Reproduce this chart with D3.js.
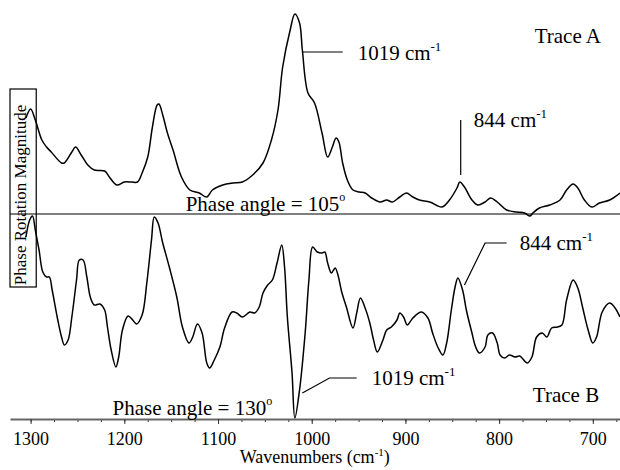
<!DOCTYPE html>
<html><head><meta charset="utf-8">
<script src="https://cdn.jsdelivr.net/npm/d3@7"></script>
<style>body{margin:0;background:#fff}svg{display:block}text{font-family:"Liberation Serif","Times New Roman",serif;fill:#000}</style>
</head><body>
<script>
// Trace A: [wavenumber, magnitude]
const traceA = [[1305,48],[1300,52.5],[1295,47],[1288,37],[1283,33.5],[1278,31],[1267,25.5],[1264,25.5],[1256,31],[1252,33.5],[1246,29.5],[1239,24.5],[1232,22],[1221,21.5],[1216,18.5],[1208,14.5],[1200,16],[1192,16],[1186,16],[1181,20.5],[1175,28.5],[1170,43.5],[1165,54.5],[1163,55],[1159,49.5],[1154,40.5],[1148,32],[1139,18.5],[1130,12],[1120,10.5],[1112,8.5],[1106,12],[1095,14.5],[1084,15.5],[1074,16],[1063,19.5],[1052,25.5],[1043,37],[1036,52],[1031,73.5],[1023,92],[1018,100],[1013,95.5],[1010,82],[1004,60.5],[997,55.5],[989,40.5],[983,28.5],[978,33.5],[974,38],[971,36],[967,25.5],[962,17],[956,12],[949,11],[943,10.5],[936,8],[927,6],[920,7],[914,6],[906,8.5],[899,10.5],[892,8.5],[885,7],[874,6],[861,3.5],[853,7],[845,13],[842,16],[837,13.5],[829,7],[823,4.5],[815,6],[809,8],[802,6],[792,2],[781,1],[773,0.5],[767,-1],[764,0.5],[757,3],[746,4.5],[735,7],[728,12],[721,15],[716,13],[709,7],[701,3.5],[693,5.5],[682,7],[671,10.5]];
// Trace B: [wavenumber, magnitude]
const traceB = [[1305,39.5],[1301,48],[1298,50],[1295,43],[1291,33],[1287,22],[1283,19.5],[1280,19.5],[1277,13],[1271,-2],[1267,-10.5],[1264,-14.5],[1260,-12],[1256,-0.5],[1251,18],[1248,28],[1244,28],[1240,19.5],[1236,9],[1232,5.5],[1226,6],[1221,3],[1218,-5.5],[1214,-17],[1209,-25.5],[1206,-20.5],[1202,-7],[1196,0],[1191,-2],[1187,-4],[1181,0.5],[1176,16.5],[1171,38],[1168,49.5],[1164,46.5],[1159,36.5],[1152,24.5],[1144,9.5],[1138,-5.5],[1131,-13.5],[1127,-10.5],[1122,-4],[1117,-8.5],[1112,-23.5],[1109,-26],[1104,-22],[1098,-15.5],[1093,-6],[1085,2],[1080,1.5],[1074,-0.5],[1066,2],[1061,1.5],[1056,4.5],[1052,11.5],[1047,15.5],[1042,18],[1037,26.5],[1032,35.5],[1029,24.5],[1026,-0.5],[1021,-28.5],[1018,-51],[1013,-37],[1007,-8.5],[1003,18],[999,34.5],[994,32],[989,31.5],[986,32],[983,26.5],[979,21.5],[975,24],[972,20.5],[968,12],[963,4.5],[956,-6],[952,1.5],[948,9],[943,4],[938,-3.5],[934,-12],[930,-18],[924,-12],[920,-7],[915,-5.5],[909,-2],[906,1.5],[902,-0.5],[898,-4.5],[892,-1],[883,2],[876,-1],[871,-8.5],[865,-16],[860,-19.5],[856,-13.5],[851,3],[847,14.5],[844,19],[839,13],[835,3],[829,-8.5],[825,-15.5],[821,-18.5],[815,-15.5],[812,-9.5],[807,-8.5],[802,-13.5],[799,-19.5],[794,-21],[789,-19.5],[783,-20.5],[778,-20],[770,-23.5],[765,-20.5],[760,-10.5],[754,-8.5],[749,-10.5],[744,-6],[738,-5.5],[733,-4.5],[728,8],[721,18],[716,14],[711,4.5],[705,-7],[700,-13.5],[696,-10.5],[690,2],[682,6.5],[677,4.5],[671,-0.5]];
const majorTicks = [1300,1200,1100,1000,900,800,700];
const minorTicks = d3.range(1300, 674, -25);
const xTitle = "Wavenumbers (cm";
const yTitle = "Phase Rotation Magnitude";
const labelsA = [{text:"Trace A", wn:762, v:85.5}];
const labelsB = [{text:"Trace B", wn:764, v:-43}];
const peakLabelsA = [{num:"1019", wn:951, v:77}, {num:"844", wn:827, v:43.5}];
const peakLabelsB = [{num:"844", wn:778, v:33}, {num:"1019", wn:936, v:-34.5}];
const leadersA = [[[1010,81],[967,81]], [[841,19.5],[841,47]]];
const leadersB = [[[837,15.5],[815,36.5],[792,36.5]], [[1010,-38.5],[981,-31],[952,-31]]];
const phaseA = {text:"Phase angle = 105", wn:1134.5, v:1.5};
const phaseB = {text:"Phase angle = 130", wn:1212.5, v:-49.5};

const SERIF = '"Liberation Serif","Times New Roman",serif';
const W = 620, H = 470;
const svg = d3.select("body").append("svg").attr("width", W).attr("height", H);
const x = d3.scaleLinear().domain([1322, 671]).range([10, 620]);
const yA = d3.scaleLinear().domain([0, 100]).range([214, 14]);
const yB = d3.scaleLinear().domain([-50, 50]).range([416, 216]);

// curves
const lineA = d3.line().x(d => x(d[0])).y(d => yA(d[1])).curve(d3.curveCatmullRom);
const lineB = d3.line().x(d => x(d[0])).y(d => yB(d[1])).curve(d3.curveCatmullRom);
svg.append("path").datum(traceA).attr("d", lineA).attr("fill","none").attr("stroke","#000").attr("stroke-width",1.5);
svg.append("path").datum(traceB).attr("d", lineB).attr("fill","none").attr("stroke","#000").attr("stroke-width",1.5);

// separator baseline for trace A
svg.append("line").attr("x1", x(1322)).attr("x2", x(671)).attr("y1", yA(0)).attr("y2", yA(0)).attr("stroke","#000").attr("stroke-width",1.2);

// y title box
const boxTop = 89, boxBot = 287;
svg.append("rect").attr("x", x(1322)).attr("y", boxTop).attr("width", x(1294)-x(1322)).attr("height", boxBot-boxTop)
  .attr("fill","none").attr("stroke","#000").attr("stroke-width",1.2);
svg.append("text").attr("transform", `translate(${x(1305)},195) rotate(-90)`).attr("text-anchor","middle")
  .style("font-family", SERIF).style("font-size","17px").text(yTitle);

// x axis
const axisY = 419;
const gMinor = svg.append("g").attr("transform", `translate(0,${axisY})`)
  .call(d3.axisBottom(x).tickValues(minorTicks).tickSize(3).tickSizeOuter(0).tickFormat(""));
gMinor.select(".domain").remove();
gMinor.selectAll("line").attr("stroke","#333");
const gMajor = svg.append("g").attr("transform", `translate(0,${axisY})`)
  .call(d3.axisBottom(x).tickValues(majorTicks).tickSize(5).tickSizeOuter(0).tickPadding(8).tickFormat(d3.format("d")));
gMajor.select(".domain").attr("stroke","#666").attr("stroke-width",2);
gMajor.selectAll(".tick line").attr("stroke","#333");
gMajor.selectAll(".tick text").style("font-size","18px").style("font-family", SERIF).attr("fill","#000");

const xt = svg.append("text").attr("x", x(1000)+3).attr("y", 463).attr("text-anchor","middle")
  .style("font-family", SERIF).style("font-size","18px");
xt.append("tspan").text(xTitle);
xt.append("tspan").attr("dy",-7).style("font-size","11px").text("-1");
xt.append("tspan").attr("dy",7).text(")");

// annotations
function peakLabel(d, ys){
  const t = svg.append("text").attr("x", x(d.wn)).attr("y", ys(d.v)).style("font-family", SERIF).style("font-size","21px");
  t.append("tspan").text(d.num + " cm");
  t.append("tspan").attr("dy",-9).style("font-size","13px").text("-1");
}
peakLabelsA.forEach(d => peakLabel(d, yA));
peakLabelsB.forEach(d => peakLabel(d, yB));
labelsA.forEach(d => svg.append("text").attr("x", x(d.wn)).attr("y", yA(d.v)).style("font-family", SERIF).style("font-size","21px").text(d.text));
labelsB.forEach(d => svg.append("text").attr("x", x(d.wn)).attr("y", yB(d.v)).style("font-family", SERIF).style("font-size","21px").text(d.text));
const lead = (ys) => d3.line().x(d => x(d[0])).y(d => ys(d[1]));
leadersA.forEach(l => svg.append("path").attr("d", lead(yA)(l)).attr("fill","none").attr("stroke","#000").attr("stroke-width",1.2));
leadersB.forEach(l => svg.append("path").attr("d", lead(yB)(l)).attr("fill","none").attr("stroke","#000").attr("stroke-width",1.2));
function phase(d, ys){
  const t = svg.append("text").attr("x", x(d.wn)).attr("y", ys(d.v)).style("font-family", SERIF).style("font-size","21px");
  t.append("tspan").text(d.text);
  t.append("tspan").attr("dy",-10).style("font-size","12px").text("o");
}
phase(phaseA, yA);
phase(phaseB, yB);
</script>
</body></html>
